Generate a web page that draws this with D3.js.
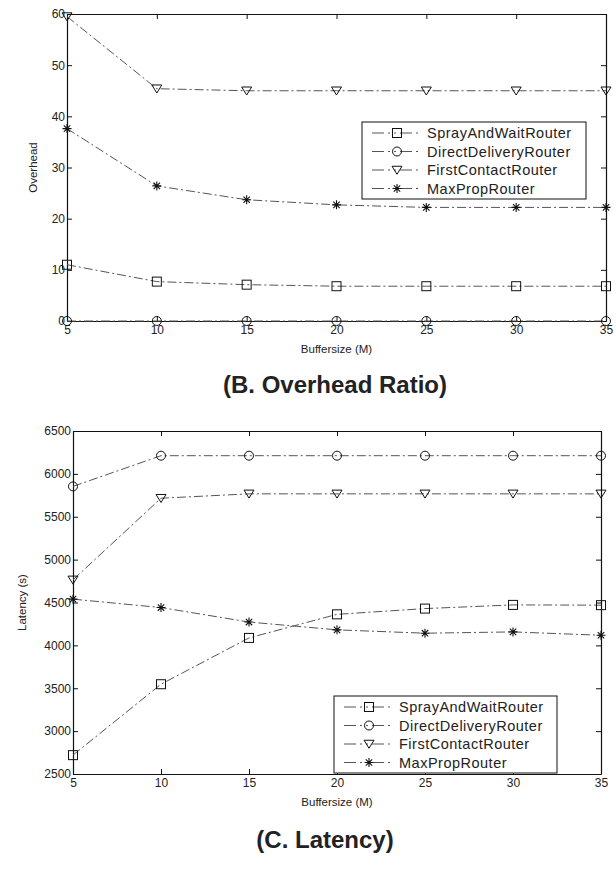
<!DOCTYPE html>
<html>
<head>
<meta charset="utf-8">
<script src="https://cdn.jsdelivr.net/npm/d3@7"></script>
<style>
  html, body { margin: 0; padding: 0; background: #fff; }
  svg { display: block; }
  text { font-family: "Liberation Sans", Arial, Helvetica, sans-serif; fill: #222; }
</style>
</head>
<body>
<svg id="fig" width="616" height="878"></svg>
<script>
// Buffer sizes (M) shared by both panels
const bufferSizes = [5, 10, 15, 20, 25, 30, 35];
const routers = ["SprayAndWaitRouter", "DirectDeliveryRouter", "FirstContactRouter", "MaxPropRouter"];
const markerTypes = ["square", "circle", "triangle", "asterisk"];

// Panel B: overhead ratio
const overheadSprayAndWait = [11.0, 7.7, 7.1, 6.8, 6.8, 6.8, 6.8];
const overheadDirectDelivery = [0, 0, 0, 0, 0, 0, 0];
const overheadFirstContact = [59.5, 45.4, 45.0, 45.0, 45.0, 45.0, 45.0];
const overheadMaxProp = [37.6, 26.4, 23.7, 22.7, 22.2, 22.2, 22.2];
const overheadTicks = [0, 10, 20, 30, 40, 50, 60];

// Panel C: latency (s)
const latencySprayAndWait = [2720, 3547, 4087, 4362, 4429, 4472, 4469];
const latencyDirectDelivery = [5854, 6212, 6212, 6212, 6212, 6212, 6212];
const latencyFirstContact = [4764, 5716, 5767, 5767, 5767, 5767, 5767];
const latencyMaxProp = [4539, 4441, 4272, 4181, 4142, 4157, 4118];
const latencyTicks = [2500, 3000, 3500, 4000, 4500, 5000, 5500, 6000, 6500];

const xTicks = [5, 10, 15, 20, 25, 30, 35];

const svg = d3.select("#fig");
const lineColor = "#555";
const dashDot = "9,3,2,3";

function drawMarker(g, type, x, y) {
  const s = 4.5;
  if (type === "square") {
    g.append("rect").attr("x", x - s).attr("y", y - s).attr("width", 2 * s).attr("height", 2 * s)
      .attr("fill", "none").attr("stroke", "#111").attr("stroke-width", 1);
  } else if (type === "circle") {
    g.append("circle").attr("cx", x).attr("cy", y).attr("r", s)
      .attr("fill", "none").attr("stroke", "#111").attr("stroke-width", 1);
  } else if (type === "triangle") {
    const t = 5;
    g.append("path").attr("d", `M${x - t},${y - t * 0.75}L${x + t},${y - t * 0.75}L${x},${y + t * 0.85}Z`)
      .attr("fill", "none").attr("stroke", "#111").attr("stroke-width", 1);
  } else {
    const a = 4.5, b = 3.2;
    g.append("path")
      .attr("d", `M${x - a},${y}L${x + a},${y}M${x},${y - a}L${x},${y + a}M${x - b},${y - b}L${x + b},${y + b}M${x - b},${y + b}L${x + b},${y - b}`)
      .attr("stroke", "#111").attr("stroke-width", 1.1);
  }
}

function panel(opts) {
  const { box, yDomain, yTicks, series, yLabel, yLabelX, title, legendBox } = opts;
  const g = svg.append("g");
  const x = d3.scaleLinear().domain([5, 35]).range([box.left, box.right]);
  const y = d3.scaleLinear().domain(yDomain).range([box.bottom, box.top]);

  // frame with inward ticks on all four sides
  const axisStyle = sel => {
    sel.select(".domain").attr("stroke", "#111").attr("stroke-width", 1.2);
    sel.selectAll(".tick line").attr("stroke", "#111");
    sel.selectAll("text").style("font-size", "12px").attr("fill", "#222");
  };
  g.append("g").attr("transform", `translate(0,${box.bottom})`)
    .call(d3.axisBottom(x).tickValues(xTicks).tickSize(-5).tickSizeOuter(0).tickPadding(4).tickFormat(d3.format("d")))
    .call(axisStyle);
  g.append("g").attr("transform", `translate(${box.left},0)`)
    .call(d3.axisLeft(y).tickValues(yTicks).tickSize(-5).tickSizeOuter(0).tickPadding(2).tickFormat(d3.format("d")))
    .call(axisStyle);
  g.append("g").attr("transform", `translate(0,${box.top})`)
    .call(d3.axisTop(x).tickValues(xTicks).tickSize(-5).tickSizeOuter(0).tickFormat(""))
    .call(axisStyle);
  g.append("g").attr("transform", `translate(${box.right},0)`)
    .call(d3.axisRight(y).tickValues(yTicks).tickSize(-5).tickSizeOuter(0).tickFormat(""))
    .call(axisStyle);
  g.selectAll(".tick text").attr("font-family", "Liberation Sans, Arial, sans-serif");

  // series lines and markers
  const line = d3.line().x((d, i) => x(bufferSizes[i])).y(d => y(d));
  series.forEach((vals, k) => {
    g.append("path").datum(vals).attr("d", line)
      .attr("fill", "none").attr("stroke", lineColor).attr("stroke-width", 1)
      .attr("stroke-dasharray", dashDot);
    vals.forEach((v, i) => drawMarker(g, markerTypes[k], x(bufferSizes[i]), y(v)));
  });

  // axis labels
  g.append("text").attr("x", (box.left + box.right) / 2).attr("y", box.bottom + 32)
    .attr("text-anchor", "middle").style("font-size", "11.5px").text("Buffersize (M)");
  g.append("text").attr("transform", `translate(${yLabelX},${(box.top + box.bottom) / 2}) rotate(-90)`)
    .attr("text-anchor", "middle").style("font-size", "11.5px").text(yLabel);

  // panel caption
  svg.append("text").attr("x", title.x).attr("y", title.y).attr("text-anchor", "middle")
    .style("font-size", "24px").style("font-weight", "bold").attr("fill", "#000").text(title.text);

  // legend
  const lg = g.append("g");
  lg.append("rect").attr("x", legendBox.x).attr("y", legendBox.y)
    .attr("width", legendBox.w).attr("height", legendBox.h)
    .attr("fill", "#fff").attr("stroke", "#111").attr("stroke-width", 1);
  routers.forEach((name, k) => {
    const cy = legendBox.y + 11 + k * 18.5;
    lg.append("line").attr("x1", legendBox.x + 10).attr("x2", legendBox.x + 60)
      .attr("y1", cy).attr("y2", cy).attr("stroke", lineColor).attr("stroke-dasharray", "12,4,2,4,2,4");
    drawMarker(lg, markerTypes[k], legendBox.x + 35, cy);
    lg.append("text").attr("x", legendBox.x + 65).attr("y", cy + 5)
      .style("font-size", "14.5px").style("letter-spacing", "0.5px").text(name);
  });
}

panel({
  box: { left: 67, right: 606, top: 14, bottom: 321 },
  yDomain: [0, 60], yTicks: overheadTicks,
  series: [overheadSprayAndWait, overheadDirectDelivery, overheadFirstContact, overheadMaxProp],
  yLabel: "Overhead", yLabelX: 37,
  title: { text: "(B. Overhead Ratio)", x: 335, y: 393 },
  legendBox: { x: 362, y: 122, w: 224, h: 77 }
});

panel({
  box: { left: 73, right: 601, top: 431, bottom: 774 },
  yDomain: [2500, 6500], yTicks: latencyTicks,
  series: [latencySprayAndWait, latencyDirectDelivery, latencyFirstContact, latencyMaxProp],
  yLabel: "Latency (s)", yLabelX: 26,
  title: { text: "(C. Latency)", x: 325, y: 848 },
  legendBox: { x: 334, y: 696, w: 223, h: 77 }
});
</script>
</body>
</html>
